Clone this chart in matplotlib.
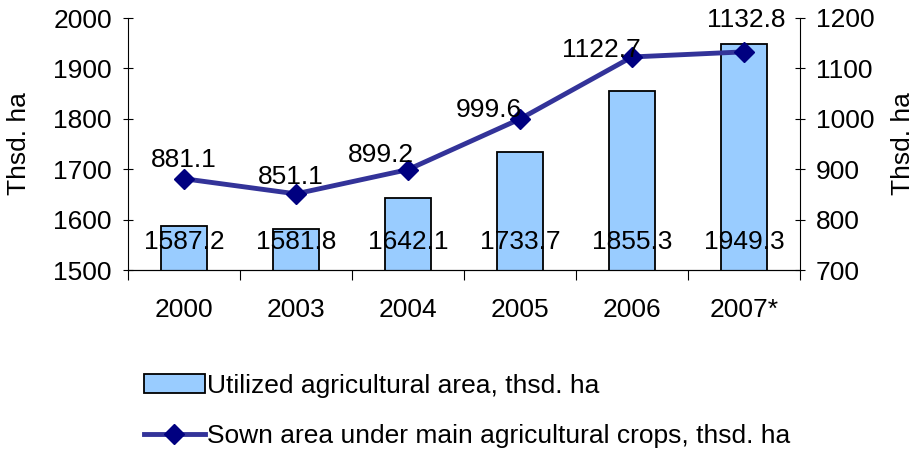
import numpy as np
import matplotlib
matplotlib.use("Agg")
import matplotlib.pyplot as plt
from matplotlib.patches import Patch
from matplotlib.lines import Line2D

plt.rcParams['font.family'] = ['Liberation Sans', 'DejaVu Sans']

years = ['2000', '2003', '2004', '2005', '2006', '2007*']
utilized = [1587.2, 1581.8, 1642.1, 1733.7, 1855.3, 1949.3]
sown = [881.1, 851.1, 899.2, 999.6, 1122.7, 1132.8]

fs = 19
bar_color = '#99CCFF'
line_color = '#333399'
marker_color = '#000080'

fig = plt.figure(figsize=(9.16, 4.5), dpi=100)
ax = fig.add_axes([0.1397, 0.40, 0.7336, 0.56])
x = np.arange(len(years))

ax.bar(x, utilized, width=0.41, bottom=0, color=bar_color, edgecolor='black', linewidth=1.3, zorder=2)
ax.set_ylim(1500, 2000)
ax.set_xlim(-0.5, len(years) - 0.5)
ax.set_yticks(np.arange(1500, 2001, 100))
ax.set_xticks(x)
ax.set_xticklabels(years)
ax.set_xticks(np.arange(-0.5, len(years), 1), minor=True)
ax.tick_params(axis='x', which='major', length=0, pad=20, labelsize=fs)
ax.tick_params(axis='x', which='minor', length=7, direction='out', width=0.8)
ax.tick_params(axis='y', length=7, direction='inout', width=0.8, labelsize=fs, pad=8)
ax.spines['top'].set_visible(False)
ax.spines['right'].set_visible(False)
ax.set_ylabel('Thsd. ha', fontsize=fs, labelpad=16)

for xi, v in zip(x, utilized):
    ax.text(xi, 1555, f'{v:.1f}', ha='center', va='center', fontsize=fs, zorder=4)

ax2 = ax.twinx()
ax2.plot(x, sown, color=line_color, linewidth=3.5, marker='D', markersize=10,
         markerfacecolor=marker_color, markeredgecolor=marker_color, zorder=3)
ax2.set_ylim(700, 1200)
ax2.set_yticks(np.arange(700, 1201, 100))
ax2.tick_params(axis='y', length=7, direction='inout', width=0.8, labelsize=fs, pad=8)
ax2.spines['top'].set_visible(False)
ax2.spines['left'].set_visible(False)
ax2.set_ylabel('Thsd. ha', fontsize=fs, labelpad=12)

offsets = [(0, 8.6), (-3.6, 7.2), (-19.4, 5.8), (-22.3, 1.4), (-22.3, 0), (1.4, 18)]
for xi, v, off in zip(x, sown, offsets):
    ax2.annotate(f'{v:.1f}', (xi, v), xytext=off, textcoords='offset points',
                 ha='center', va='baseline', fontsize=fs)

handles = [
    Patch(facecolor=bar_color, edgecolor='black', linewidth=1.3),
    Line2D([0], [0], color=line_color, linewidth=3.5, marker='D', markersize=10,
           markerfacecolor=marker_color, markeredgecolor=marker_color),
]
labels = ['Utilized agricultural area, thsd. ha',
          'Sown area under main agricultural crops, thsd. ha']
fig.legend(handles, labels, loc='upper left', bbox_to_anchor=(0.157, 0.17), frameon=False,
           fontsize=fs, handlelength=2.3, handletextpad=0.1, labelspacing=1.0,
           borderaxespad=0, borderpad=0)

fig.savefig('out.png', dpi=100)
